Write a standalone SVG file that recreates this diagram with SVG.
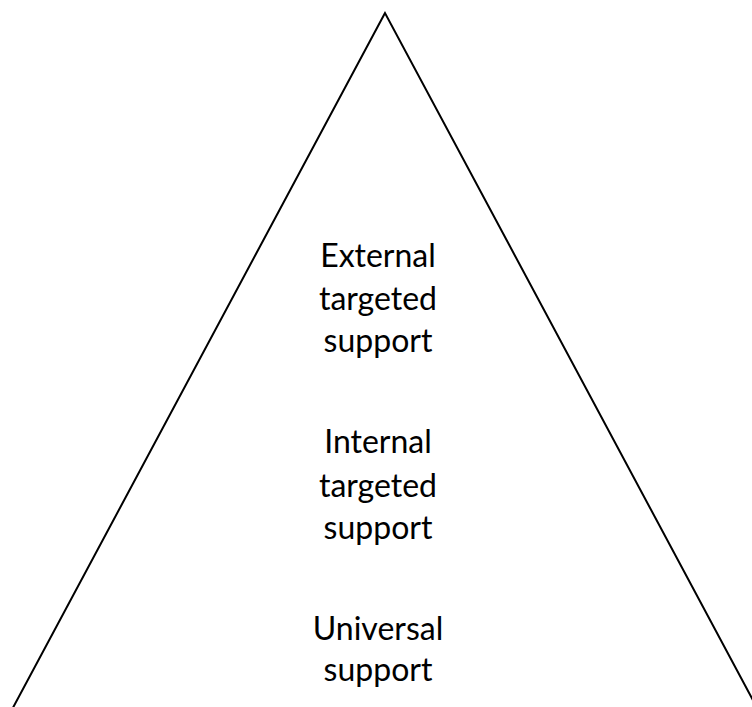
<svg xmlns="http://www.w3.org/2000/svg" width="752" height="707" viewBox="0 0 752 707">
<style>
.t{font-family:Lato,"Liberation Sans",sans-serif;font-size:32px;fill:#000;text-anchor:middle}
</style>
<rect width="752" height="707" fill="#fff"/>
<g id="pyramid">
<polygon points="385,13 8,717 762,717" fill="none" stroke="#000" stroke-width="2"/>
</g>
<g id="external">
<text class="t" x="378" y="267">External</text>
<text class="t" x="378" y="310">targeted</text>
<text class="t" x="378" y="352">support</text>
</g>
<g id="internal">
<text class="t" x="378" y="453">Internal</text>
<text class="t" x="378" y="497">targeted</text>
<text class="t" x="378" y="539">support</text>
</g>
<g id="universal">
<text class="t" x="378" y="640">Universal</text>
<text class="t" x="378" y="681">support</text>
</g>
</svg>
